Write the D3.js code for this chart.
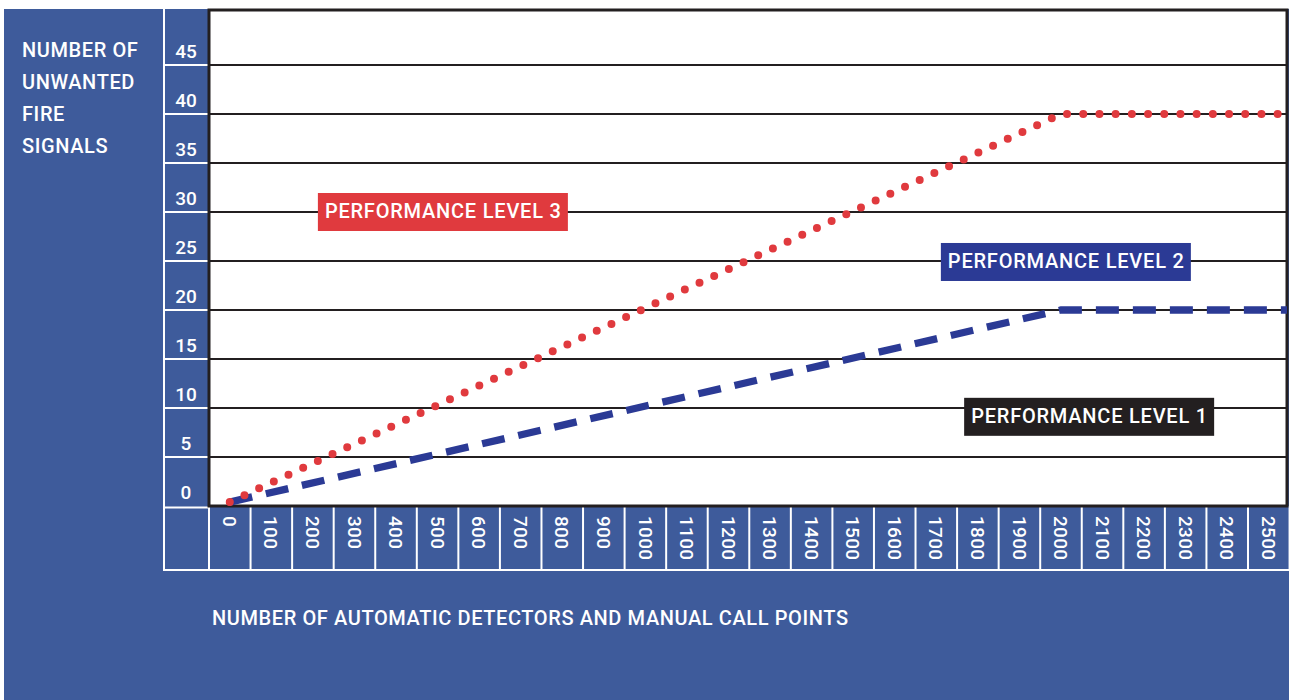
<!DOCTYPE html>
<html>
<head>
<meta charset="utf-8">
<script src="https://cdn.jsdelivr.net/npm/d3@7"></script>
<style>
  html, body { margin: 0; padding: 0; background: #fff; }
  svg { display: block; }
  text { font-family: Roboto, "DejaVu Sans", sans-serif; font-weight: 500; fill: #fff; }
</style>
</head>
<body>
<svg id="chart" width="1289" height="700"></svg>
<script>
// data
let xTicks = [0, 100, 200, 300, 400, 500, 600, 700, 800, 900, 1000, 1100, 1200,
  1300, 1400, 1500, 1600, 1700, 1800, 1900, 2000, 2100, 2200, 2300, 2400, 2500]
let yTicks = [0, 5, 10, 15, 20, 25, 30, 35, 40, 45]
let detectors = [0, 2000, 2550]
let level3 = [0.4, 40, 40]
let level2 = [0.4, 20, 20]

let labelText = ['PERFORMANCE LEVEL 3', 'PERFORMANCE LEVEL 2', 'PERFORMANCE LEVEL 1']
let labelX = [212, 1711, 1767]
let labelY = [30, 24.9, 9.1]
let labelColor = ['#e03a3e', '#2b3a95', '#231f20']

let yTitle = ['NUMBER OF', 'UNWANTED', 'FIRE', 'SIGNALS']
let xTitle = 'NUMBER OF AUTOMATIC DETECTORS AND MANUAL CALL POINTS'

let bgColor = '#3e5b9b'
let gridColor = '#231f20'
let cellW = 41.56
let plotLeft = 209, plotRight = 1287, plotTop = 10, plotBottom = 506
let colLeft = 164, axisBottom = 570

let svg = d3.select('#chart')

// blue background
svg.append('rect').attr('x', 4).attr('y', 9).attr('width', 1285).attr('height', 691).attr('fill', bgColor)

let x = d3.scaleLinear()
  .domain([xTicks[0] - 50, xTicks[xTicks.length - 1] + 50])
  .range([plotLeft, plotLeft + cellW * xTicks.length])

let y = d3.scaleLinear().domain([0, 45]).range([plotBottom, 65])

// plot area
svg.append('rect')
  .attr('x', plotLeft).attr('y', plotTop)
  .attr('width', plotRight - plotLeft).attr('height', plotBottom - plotTop)
  .attr('fill', '#fff')

svg.append('clipPath').attr('id', 'plot-clip')
  .append('rect')
  .attr('x', plotLeft).attr('y', plotTop)
  .attr('width', plotRight - plotLeft).attr('height', plotBottom - plotTop)

// gridlines
svg.append('g').selectAll('line')
  .data(yTicks.slice(1))
  .join('line')
  .attr('x1', plotLeft).attr('x2', plotRight)
  .attr('y1', d => y(d)).attr('y2', d => y(d))
  .attr('stroke', gridColor).attr('stroke-width', 2.2)

// white cell lines of the y column
let cells = svg.append('g').attr('stroke', '#fff').attr('stroke-width', 2)
cells.append('line').attr('x1', colLeft).attr('x2', colLeft).attr('y1', 9).attr('y2', axisBottom + 1)
cells.selectAll('.ycell')
  .data(yTicks)
  .join('line')
  .attr('class', 'ycell')
  .attr('x1', colLeft).attr('x2', plotLeft)
  .attr('y1', d => y(d) + (d === 0 ? 1.5 : 0)).attr('y2', d => y(d) + (d === 0 ? 1.5 : 0))
cells.append('line').attr('x1', colLeft).attr('x2', 1289).attr('y1', axisBottom).attr('y2', axisBottom)
cells.selectAll('.xcell')
  .data(xTicks.concat([xTicks[xTicks.length - 1] + 100]))
  .join('line')
  .attr('class', 'xcell')
  .attr('x1', d => x(d - 50)).attr('x2', d => x(d - 50))
  .attr('y1', plotBottom).attr('y2', axisBottom)

// plot border
svg.append('rect')
  .attr('x', plotLeft).attr('y', plotTop)
  .attr('width', plotRight - plotLeft).attr('height', plotBottom - plotTop)
  .attr('fill', 'none').attr('stroke', gridColor).attr('stroke-width', 3)

// tick labels
svg.append('g').selectAll('text')
  .data(yTicks)
  .join('text')
  .attr('x', 186).attr('y', d => y(d) - 7)
  .attr('text-anchor', 'middle')
  .style('font-size', '19px')
  .text(d => d)

svg.append('g').selectAll('text')
  .data(xTicks)
  .join('text')
  .attr('transform', d => `translate(${x(d)},516) rotate(90)`)
  .attr('dy', '0.36em')
  .style('font-size', '19px')
  .style('letter-spacing', '0.3px')
  .text(d => d)

// lines
let lines = svg.append('g').attr('clip-path', 'url(#plot-clip)')
let line = d3.line().x(d => x(d[0])).y(d => y(d[1]))

lines.append('path')
  .datum(detectors.map((d, i) => [d, level2[i]]))
  .attr('d', line)
  .attr('fill', 'none')
  .attr('stroke', '#2b3a95')
  .attr('stroke-width', 7.3)
  .attr('stroke-dasharray', '23 14')

lines.append('path')
  .datum(detectors.map((d, i) => [d, level3[i]]))
  .attr('d', line)
  .attr('fill', 'none')
  .attr('stroke', '#e03a3e')
  .attr('stroke-width', 8)
  .attr('stroke-linecap', 'round')
  .attr('stroke-dasharray', '0 16.2')

// performance level labels
let labels = svg.append('g').selectAll('g')
  .data(labelText)
  .join('g')
  .attr('transform', (d, i) => `translate(${x(labelX[i])},${y(labelY[i]) - 19})`)

labels.append('rect')
  .attr('width', 250).attr('height', 38)
  .attr('fill', (d, i) => labelColor[i])

labels.append('text')
  .attr('x', 7).attr('y', 25)
  .attr('textLength', 236).attr('lengthAdjust', 'spacing')
  .style('font-size', '20px')
  .text(d => d)

// axis titles
svg.append('g').selectAll('text')
  .data(yTitle)
  .join('text')
  .attr('x', 22).attr('y', (d, i) => 57 + i * 32)
  .style('font-size', '20px')
  .style('letter-spacing', '0.6px')
  .text(d => d)

svg.append('text')
  .attr('x', 212).attr('y', 625)
  .attr('textLength', 636).attr('lengthAdjust', 'spacing')
  .style('font-size', '20px')
  .text(xTitle)
</script>
</body>
</html>
